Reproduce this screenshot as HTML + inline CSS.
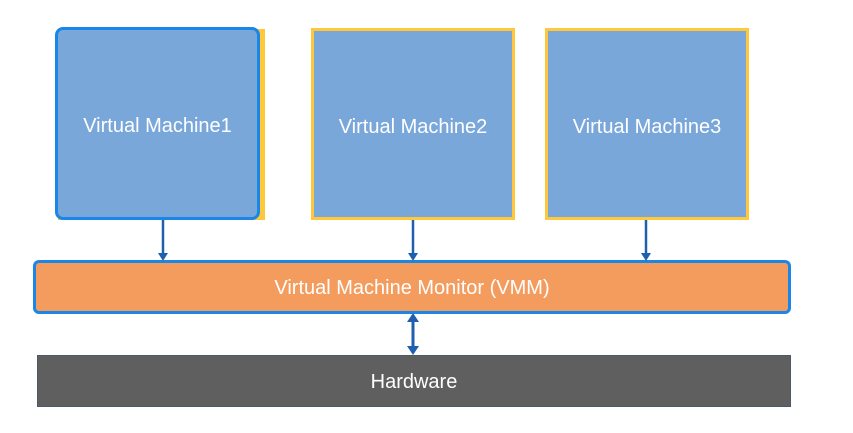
<!DOCTYPE html>
<html><head><style>
body{margin:0;width:853px;height:433px;background:#fff;position:relative;overflow:hidden;font-family:"Liberation Sans","DejaVu Sans",sans-serif}
.b{position:absolute;box-sizing:border-box;display:flex;align-items:center;justify-content:center;color:#fff;font-size:20px}
.vm{background:#7aa7d9;border:3px solid #ffc73a;padding-top:6px}
</style></head><body>
<div class="b" style="left:58px;top:29px;width:207px;height:191px;background:#ffc73a"></div>
<div class="b" style="left:55px;top:27px;width:205px;height:193px;background:#7aa7d9;border:3px solid #1a86e8;border-radius:8px;padding-top:6px">Virtual Machine1</div>
<div class="b vm" style="left:311px;top:28px;width:204px;height:192px">Virtual Machine2</div>
<div class="b vm" style="left:545px;top:28px;width:204px;height:192px">Virtual Machine3</div>
<div class="b" style="left:33px;top:260px;width:758px;height:54px;background:#f49c5e;border:3px solid #1a86e8;border-radius:6px;padding-top:3px">Virtual Machine Monitor (VMM)</div>
<div class="b" style="left:37px;top:355px;width:754px;height:52px;background:#5f5f5f;border:1px solid #4a5a6a;padding-top:2px">Hardware</div>
<svg width="853" height="433" style="position:absolute;left:0;top:0">
<g stroke="#1f5fb0" stroke-width="2.5" fill="#1f5fb0">
<line x1="163" y1="220" x2="163" y2="254"/><polygon points="158,253 168,253 163,261" stroke="none"/>
<line x1="413" y1="220" x2="413" y2="254"/><polygon points="408,253 418,253 413,261" stroke="none"/>
<line x1="646" y1="220" x2="646" y2="254"/><polygon points="641,253 651,253 646,261" stroke="none"/>
<line x1="413" y1="320" x2="413" y2="348" stroke-width="3"/>
<polygon points="407,322 419,322 413,313" stroke="none"/>
<polygon points="407,346 419,346 413,355" stroke="none"/>
</g></svg>
</body></html>
